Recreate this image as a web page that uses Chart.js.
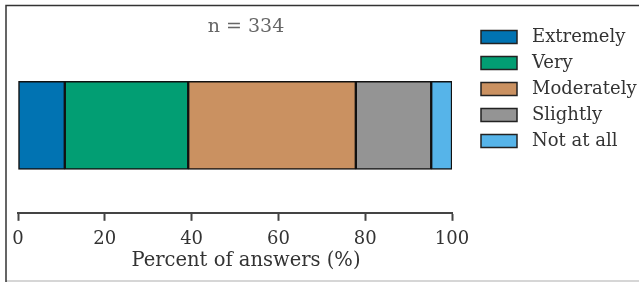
<!DOCTYPE html>
<html>
<head>
<meta charset="utf-8">
<script src="https://cdn.jsdelivr.net/npm/chart.js@4.4.0/dist/chart.umd.min.js"></script>
<style>
  html, body { margin: 0; padding: 0; background: #fff; }
  #wrap { position: relative; width: 639px; height: 282px; }
</style>
</head>
<body>
<div id="wrap"><canvas id="myChart" width="639" height="282"></canvas></div>
<script>
const categories = ["Answers"];
const levels = ["Extremely", "Very", "Moderately", "Slightly", "Not at all"];
// share of answers per level (%), n = 334
const percents = [10.78, 28.44, 38.62, 17.37, 4.79];
const colors = ["#0173b2", "#029e73", "#ca9161", "#949494", "#56b4e9"];
const xTicks = [0, 20, 40, 60, 80, 100];
const sampleText = "n = 334";
const xTitle = "Percent of answers (%)";

const serif = "'DejaVu Serif', serif";

// frame around the figure
const framePlugin = {
    id: "frame",
    beforeDraw(chart) {
        const ctx = chart.ctx;
        ctx.save();
        ctx.fillStyle = "#fff";
        ctx.fillRect(0, 0, chart.width, chart.height);
        ctx.strokeStyle = "#c8c8c8";
        ctx.lineWidth = 1.5;
        ctx.beginPath();
        ctx.moveTo(6, 281);
        ctx.lineTo(chart.width, 281);
        ctx.stroke();
        ctx.strokeStyle = "#333";
        ctx.lineWidth = 1.5;
        ctx.beginPath();
        ctx.moveTo(6, chart.height);
        ctx.lineTo(6, 5.5);
        ctx.lineTo(chart.width, 5.5);
        ctx.stroke();
        ctx.restore();
    }
};

// "n = 334" label, axis title and legend on the right
const annotatePlugin = {
    id: "annotate",
    afterDraw(chart) {
        const ctx = chart.ctx;
        ctx.save();
        ctx.font = "19px " + serif;
        ctx.fillStyle = "#666";
        ctx.textAlign = "center";
        ctx.textBaseline = "middle";
        ctx.fillText(sampleText, 246, 27);

        ctx.font = "19.5px " + serif;
        ctx.fillStyle = "#333";
        ctx.fillText(xTitle, 246, 260.5);

        ctx.font = "18px " + serif;
        ctx.textAlign = "left";
        chart.data.datasets.forEach(function (ds, i) {
            let y = 37 + i * 26;
            ctx.fillStyle = ds.backgroundColor;
            ctx.fillRect(481, y - 6.5, 36, 13);
            ctx.strokeStyle = "#222";
            ctx.lineWidth = 1.5;
            ctx.strokeRect(481, y - 6.5, 36, 13);
            ctx.fillStyle = "#333";
            ctx.fillText(ds.label, 532, y);
        });
        ctx.restore();
    }
};

let chartConfig = {
    type: "bar",
    data: {
        labels: categories,
        datasets: levels.map(function (name, i) {
            return {
                label: name,
                data: [percents[i]],
                backgroundColor: colors[i],
                borderColor: "#111",
                borderWidth: 1.5,
                borderSkipped: false,
                barThickness: 88
            };
        })
    },
    options: {
        indexAxis: "y",
        responsive: false,
        animation: false,
        layout: {
            padding: { top: 38, left: 18, right: 187, bottom: 23.6 }
        },
        plugins: {
            legend: { display: false },
            tooltip: { enabled: false }
        },
        scales: {
            y: {
                stacked: true,
                display: false
            },
            x: {
                stacked: true,
                min: 0,
                max: 100,
                afterBuildTicks: function (axis) {
                    axis.ticks = xTicks.map(function (v) { return { value: v }; });
                },
                grid: {
                    drawOnChartArea: false,
                    drawTicks: true,
                    tickLength: 8,
                    tickWidth: 2,
                    tickColor: "#444"
                },
                border: { display: true, color: "#444", width: 2 },
                ticks: {
                    color: "#333",
                    padding: 8,
                    maxRotation: 0,
                    font: { family: serif, size: 18 }
                },
                title: { display: false }
            }
        }
    },
    plugins: [framePlugin, annotatePlugin]
};

new Chart(document.getElementById("myChart"), chartConfig);
</script>
</body>
</html>
